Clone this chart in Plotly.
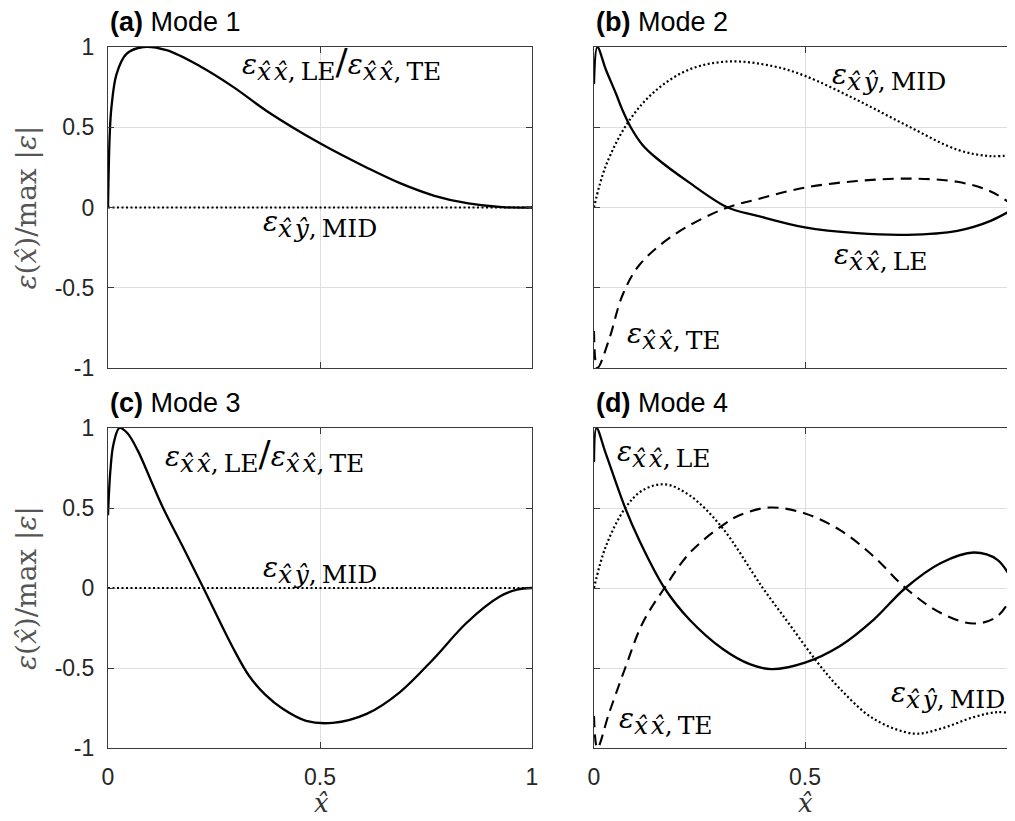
import plotly.graph_objects as go

# ---------------- data ----------------
# Mode 1
m1_le_x = [0, 0.004, 0.008, 0.02, 0.043, 0.083, 0.138, 0.217, 0.296, 0.375, 0.5, 0.613, 0.69, 0.77, 0.85, 0.93, 1.0]
m1_le_y = [0, 0.45, 0.62, 0.83, 0.956, 1.0, 0.98, 0.88, 0.75, 0.60, 0.40, 0.245, 0.15, 0.073, 0.025, 0.002, 0]
m1_mid_x = [0, 1.0]
m1_mid_y = [0, 0]

# Mode 2
m2_le_x = [0, 0.008, 0.028, 0.052, 0.067, 0.087, 0.115, 0.147, 0.226, 0.317, 0.385, 0.5, 0.623, 0.742, 0.861, 0.94, 1.0]
m2_le_y = [0.77, 1.0, 0.86, 0.71, 0.61, 0.5, 0.39, 0.31, 0.155, 0.0, -0.05, -0.124, -0.16, -0.17, -0.145, -0.083, 0]
m2_mid_x = [0, 0.028, 0.083, 0.147, 0.226, 0.32, 0.425, 0.5, 0.623, 0.742, 0.861, 0.94, 1.0]
m2_mid_y = [0, 0.26, 0.54, 0.73, 0.86, 0.91, 0.88, 0.82, 0.67, 0.51, 0.36, 0.32, 0.33]
m2_te_x = [0, 0.008, 0.036, 0.067, 0.107, 0.187, 0.306, 0.385, 0.5, 0.623, 0.742, 0.861, 0.94, 1.0]
m2_te_y = [-0.77, -1.0, -0.82, -0.55, -0.36, -0.175, -0.01, 0.05, 0.124, 0.165, 0.18, 0.16, 0.10, 0]

# Mode 3
m3_le_x = [0, 0.0055, 0.013, 0.027, 0.045, 0.07, 0.1, 0.13, 0.175, 0.225, 0.294, 0.333, 0.372, 0.412, 0.467, 0.53, 0.61, 0.688, 0.767, 0.846, 0.925, 0.965, 1.0]
m3_le_y = [0.455, 0.73, 0.9, 1.0, 0.97, 0.86, 0.68, 0.5, 0.265, 0.0, -0.37, -0.55, -0.67, -0.755, -0.83, -0.843, -0.787, -0.652, -0.445, -0.217, -0.052, -0.01, 0]
m3_mid_x = [0, 1.0]
m3_mid_y = [0, 0]

# Mode 4
m4_le_x = [0, 0.006, 0.028, 0.074, 0.107, 0.167, 0.226, 0.306, 0.369, 0.42, 0.5, 0.583, 0.663, 0.738, 0.821, 0.9, 0.956, 1.0]
m4_le_y = [0.787, 1.0, 0.84, 0.5, 0.30, 0.0, -0.197, -0.383, -0.476, -0.507, -0.466, -0.362, -0.197, 0.0, 0.155, 0.222, 0.176, 0]
m4_mid_x = [0, 0.028, 0.074, 0.115, 0.167, 0.226, 0.302, 0.4, 0.464, 0.528, 0.583, 0.663, 0.758, 0.821, 0.9, 0.956, 1.0]
m4_mid_y = [0, 0.26, 0.5, 0.61, 0.648, 0.58, 0.383, 0.0, -0.23, -0.46, -0.63, -0.818, -0.91, -0.88, -0.807, -0.776, -0.787]
m4_te_x = [0, 0.008, 0.036, 0.074, 0.115, 0.167, 0.226, 0.302, 0.345, 0.417, 0.5, 0.583, 0.663, 0.738, 0.821, 0.9, 0.956, 1.0]
m4_te_y = [-0.8, -1.0, -0.78, -0.5, -0.22, 0.0, 0.217, 0.387, 0.455, 0.503, 0.466, 0.362, 0.197, 0.0, -0.155, -0.222, -0.176, 0]

panel_titles = ["<b>(a)</b> Mode 1", "<b>(b)</b> Mode 2", "<b>(c)</b> Mode 3", "<b>(d)</b> Mode 4"]
x_tick_vals = [0, 0.5, 1]
x_tick_text = ["0", "0.5", "1"]
y_tick_vals = [1, 0.5, 0, -0.5, -1]
y_tick_text = ["1", "0.5", "0", "-0.5", "-1"]

XH = "<i>x\u0302</i>"
YH = "<i>\u0177</i>"
EPS = "<i>\u03b5</i>"
TS = "\u2009"  # thin space
HS = "\u200a"  # hair space


def sub(s):
    return f'<sub><span style="font-size:25px">{s}</span></sub>'


LBL_LE = f"{EPS}{sub(XH + HS + XH + ',' + TS + 'LE')}"
LBL_TE = f"{EPS}{sub(XH + HS + XH + ',' + TS + 'TE')}"
LBL_MID = f"{EPS}{sub(XH + HS + YH + ',' + TS + 'MID')}"
LBL_BOTH = (f"{EPS}{sub(XH + HS + XH + ',' + TS + 'LE')}"
            f'<span style="font-size:36px">/</span>'
            f"{EPS}{sub(XH + HS + XH + ',' + TS + 'TE')}")

# panel label placements (data coordinates)
labels = {
    1: [(LBL_BOTH, 0.55, 0.90), (LBL_MID, 0.5, -0.1)],
    2: [(LBL_MID, 0.70, 0.81), (LBL_LE, 0.68, -0.31), (LBL_TE, 0.19, -0.80)],
    3: [(LBL_BOTH, 0.37, 0.83), (LBL_MID, 0.50, 0.11)],
    4: [(LBL_LE, 0.165, 0.84), (LBL_TE, 0.17, -0.83), (LBL_MID, 0.84, -0.67)],
}

# ---------------- layout ----------------
# the page adds an 8px body margin, so figure coords = screenshot coords - 8
W, H = 1015, 821
OFF = 8


def px_x(sx):
    return (sx - OFF) / W


def px_y(sy):
    return 1 - (sy - OFF) / H


left_dom = [px_x(108), px_x(532)]
right_dom = [px_x(594), px_x(1016)]
top_dom = [px_y(368), px_y(47)]
bot_dom = [px_y(748), px_y(428)]

panels = {
    1: (left_dom, top_dom),
    2: (right_dom, top_dom),
    3: (left_dom, bot_dom),
    4: (right_dom, bot_dom),
}

fig = go.Figure()

SOLID = dict(color="black", width=2.3, shape="spline", smoothing=1.0)
DOT = dict(color="black", width=2.2, dash="2px,2.5px", shape="spline", smoothing=1.0)
DASH = dict(color="black", width=2.1, dash="11px,7px", shape="spline", smoothing=1.0)


def ax(n):
    return "" if n == 1 else str(n)


series = {
    1: [(m1_mid_x, m1_mid_y, DOT), (m1_le_x, m1_le_y, SOLID)],
    2: [(m2_mid_x, m2_mid_y, DOT), (m2_te_x, m2_te_y, DASH), (m2_le_x, m2_le_y, SOLID)],
    3: [(m3_mid_x, m3_mid_y, DOT), (m3_le_x, m3_le_y, SOLID)],
    4: [(m4_mid_x, m4_mid_y, DOT), (m4_te_x, m4_te_y, DASH), (m4_le_x, m4_le_y, SOLID)],
}

for n, lst in series.items():
    for xs, ys, ln in lst:
        fig.add_trace(go.Scatter(x=xs, y=ys, mode="lines", line=ln,
                                 xaxis="x" + ax(n), yaxis="y" + ax(n),
                                 showlegend=False, hoverinfo="skip", cliponaxis=True))

TICKFONT = dict(family="Liberation Sans, Arial, sans-serif", size=23, color="#262626")
AXCOL = "#3a3a3a"
GRIDCOL = "#dedede"

layout = dict(
    width=W, height=H, margin=dict(l=0, r=0, t=0, b=0, autoexpand=False),
    paper_bgcolor="white", plot_bgcolor="white", showlegend=False,
)
for n, (xd, yd) in panels.items():
    bottom_row = n in (3, 4)
    left_col = n in (1, 3)
    layout["xaxis" + ax(n)] = dict(
        domain=xd, range=[0, 1], anchor="y" + ax(n), automargin=False,
        tickvals=x_tick_vals, ticktext=x_tick_text, showticklabels=bottom_row,
        ticks="inside", ticklen=6, tickcolor=AXCOL, tickwidth=1,
        showline=True, linecolor=AXCOL, linewidth=1.2, mirror="ticks",
        showgrid=True, gridcolor=GRIDCOL, gridwidth=1, zeroline=False,
        tickfont=TICKFONT, ticklabelstandoff=8,
    )
    layout["yaxis" + ax(n)] = dict(
        domain=yd, range=[-1, 1], anchor="x" + ax(n), automargin=False,
        tickvals=y_tick_vals, ticktext=y_tick_text, showticklabels=left_col,
        ticks="inside", ticklen=6, tickcolor=AXCOL, tickwidth=1,
        showline=True, linecolor=AXCOL, linewidth=1.2, mirror="ticks",
        showgrid=True, gridcolor=GRIDCOL, gridwidth=1, zeroline=False,
        tickfont=TICKFONT, ticklabelstandoff=8,
    )
fig.update_layout(**layout)

annos = []
SERIF = "DejaVu Serif, Liberation Serif, serif"
for n, lst in labels.items():
    for txt, x, y in lst:
        annos.append(dict(text=txt, x=x, y=y, xref="x" + ax(n), yref="y" + ax(n),
                          showarrow=False, xanchor="center", yanchor="middle",
                          font=dict(family=SERIF, size=28, color="black")))

# panel titles
for n, t in zip(panels, panel_titles):
    xd, yd = panels[n]
    annos.append(dict(text=t, x=xd[0], y=yd[1], xref="paper", yref="paper",
                      xanchor="left", yanchor="bottom", showarrow=False, yshift=8,
                      font=dict(family="Liberation Sans, Arial, sans-serif", size=27, color="black")))

# y-axis titles
for yd in (top_dom, bot_dom):
    annos.append(dict(text=f"{EPS}(<i>x\u0302</i>)/max |{EPS}|", x=px_x(26), y=(yd[0] + yd[1]) / 2,
                      xref="paper", yref="paper", textangle=-90, showarrow=False,
                      xanchor="center", yanchor="middle",
                      font=dict(family=SERIF, size=28, color="#555555")))

# x-axis titles
for xc in (321, 805):
    annos.append(dict(text="<i>x\u0302</i>", x=px_x(xc),
                      y=px_y(803), xref="paper", yref="paper", showarrow=False,
                      xanchor="center", yanchor="middle",
                      font=dict(family=SERIF, size=26, color="#333333")))

fig.update_layout(annotations=annos)
fig.write_html("out.html")
